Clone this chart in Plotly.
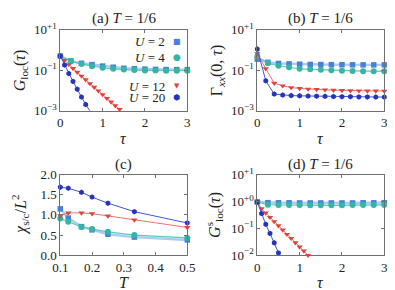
import plotly.graph_objects as go

# ---------------- data ----------------
tau_025 = [0, 0.25, 0.5, 0.75, 1.0, 1.25, 1.5, 1.75, 2.0, 2.25, 2.5, 2.75, 3.0]
tau_01_a12 = [0, 0.1, 0.2, 0.3, 0.4, 0.5, 0.6, 0.7, 0.8, 0.9, 1.0, 1.1, 1.2, 1.3, 1.4]
tau_01_a20 = [0, 0.1, 0.2, 0.3, 0.4, 0.5, 0.6, 0.7]
tau_02 = [0, 0.2, 0.4, 0.6, 0.8, 1.0, 1.2, 1.4, 1.6, 1.8, 2.0, 2.2, 2.4, 2.6, 2.8, 3.0]
tau_01_d12 = [0, 0.1, 0.2, 0.3, 0.4, 0.5, 0.6, 0.7, 0.8, 0.9, 1.0, 1.1, 1.2]
tau_01_d20 = [0, 0.1, 0.2, 0.3, 0.4, 0.5]

# (a) G_loc(tau)
a_U2 = [0.5, 0.29, 0.22, 0.19, 0.16, 0.14, 0.125, 0.118, 0.113, 0.11, 0.108, 0.107, 0.107]
a_U4 = [0.5, 0.275, 0.2, 0.158, 0.132, 0.117, 0.107, 0.101, 0.098, 0.096, 0.095, 0.094, 0.094]
a_U12 = [0.5, 0.302, 0.19, 0.123, 0.0794, 0.0513, 0.0339, 0.0219, 0.0145, 0.00955,
         0.0063, 0.0041, 0.0027, 0.00178, 0.00117]
a_U20 = [0.5, 0.18, 0.068, 0.028, 0.0115, 0.0047, 0.0020, 0.00098]

# (b) Gamma_xx(0, tau)
b_U2 = [0.35, 0.245, 0.215, 0.205, 0.198, 0.193, 0.19, 0.188, 0.186, 0.185, 0.184, 0.183, 0.183]
b_U4 = [0.48, 0.22, 0.166, 0.138, 0.118, 0.11, 0.104, 0.099, 0.095, 0.092, 0.090, 0.089, 0.088]
b_U12 = [0.65, 0.118, 0.023, 0.017, 0.0138, 0.0126, 0.0117, 0.0112, 0.0107, 0.0103,
         0.0100, 0.0098, 0.0096, 0.0095, 0.0094, 0.0093]
b_U20 = [1.1, 0.030, 0.0066, 0.0059, 0.0056, 0.0054, 0.0053, 0.0052, 0.0051, 0.0050,
         0.0049, 0.0049, 0.0048, 0.0048, 0.0047, 0.0047]

# (c) chi_{s/c}/L^2 vs T
T_vals = [0.1, 0.125, 1 / 6, 0.2, 0.25, 1 / 3, 0.5]
c_U2 = [1.15, 0.92, 0.71, 0.63, 0.52, 0.45, 0.38]
c_U4 = [0.91, 0.83, 0.70, 0.65, 0.58, 0.50, 0.43]
c_U12 = [0.98, 1.05, 1.05, 1.03, 0.975, 0.876, 0.69]
c_U20 = [1.686, 1.66, 1.56, 1.44, 1.29, 1.08, 0.80]

# (d) G^s_loc(tau)
d_U2 = [0.95, 0.9, 0.89, 0.89, 0.88, 0.88, 0.88, 0.88, 0.88, 0.88, 0.89, 0.89, 0.9]
d_U4 = [0.95, 0.76, 0.74, 0.73, 0.73, 0.72, 0.72, 0.72, 0.72, 0.73, 0.73, 0.73, 0.74]
d_U12 = [0.955, 0.537, 0.372, 0.257, 0.178, 0.126, 0.087, 0.060, 0.0427, 0.0295,
         0.0204, 0.0145, 0.0100]
d_U20 = [0.95, 0.355, 0.141, 0.065, 0.029, 0.0123]

labels = ["<i>U</i> = 2", "<i>U</i> = 4", "<i>U</i> = 12", "<i>U</i> = 20"]

# ---------------- styles ----------------
FONT = "Liberation Serif, DejaVu Serif, serif"
TXT = "#222"
mcol = ["#4a80d8", "#36b5a6", "#e0443c", "#2633bd"]
lcol = ["#a8cdf0", "#5cc6b8", "#e8736c", "#4456d0"]
lw = [2.4, 1.2, 1.0, 1.0]
sym = ["square", "circle", "triangle-down", "hexagon"]
msz = [5.5, 6, 5.5, 5.5]
glyph = ["■", "●", "▼", "⬢"]
gsize = [8, 9, 7, 8]

fig = go.Figure()


def add(x, y, i, xa, ya):
    fig.add_trace(go.Scatter(
        x=x, y=y, mode="lines+markers", xaxis=xa, yaxis=ya,
        line=dict(color=lcol[i], width=lw[i]),
        marker=dict(color=mcol[i], symbol=sym[i], size=msz[i], line=dict(width=0)),
        cliponaxis=False, showlegend=False, name=labels[i]))


add(tau_025, a_U2, 0, "x", "y")
add(tau_025, a_U4, 1, "x", "y")
add(tau_01_a12, a_U12, 2, "x", "y")
add(tau_01_a20, a_U20, 3, "x", "y")

add(tau_025, b_U2, 0, "x2", "y2")
add(tau_025, b_U4, 1, "x2", "y2")
add(tau_02, b_U12, 2, "x2", "y2")
add(tau_02, b_U20, 3, "x2", "y2")

add(T_vals, c_U2, 0, "x3", "y3")
add(T_vals, c_U4, 1, "x3", "y3")
add(T_vals, c_U12, 2, "x3", "y3")
add(T_vals, c_U20, 3, "x3", "y3")

add(tau_025, d_U2, 0, "x4", "y4")
add(tau_025, d_U4, 1, "x4", "y4")
add(tau_01_d12, d_U12, 2, "x4", "y4")
add(tau_01_d20, d_U20, 3, "x4", "y4")

W, H = 395, 290


def px(x):
    return x / W


def py(y):
    return 1 - y / H


dxL = [px(52.3), px(179.3)]
dxR = [px(249.3), px(376.3)]
dyT = [py(102.7), py(21.7)]
dyB = [py(247.3), py(166.5)]

axcommon = dict(showline=True, linecolor="#707070", linewidth=1, mirror="ticks",
                ticks="inside", ticklen=3, tickcolor="#707070", showgrid=False,
                zeroline=False, automargin=False,
                tickfont=dict(family=FONT, size=13, color=TXT))

TF = dict(family=FONT, size=16, color=TXT)

logticks3 = dict(tickvals=[10, 0.1, 0.001], ticktext=["10<sup>+1</sup>", "10<sup>−1</sup>", "10<sup>−3</sup>"])
tauticks = dict(range=[0, 3], tickvals=[0, 1, 2, 3])

fig.update_layout(
    width=W, height=H, margin=dict(l=0, r=0, t=0, b=0),
    paper_bgcolor="white", plot_bgcolor="white",
    font=dict(family=FONT, color=TXT),
    xaxis=dict(domain=dxL, anchor="y", **tauticks, **axcommon),
    yaxis=dict(domain=dyT, anchor="x", type="log", range=[-3, 1], **logticks3, **axcommon),
    xaxis2=dict(domain=dxR, anchor="y2", **tauticks, **axcommon),
    yaxis2=dict(domain=dyT, anchor="x2", type="log", range=[-3, 1], **logticks3, **axcommon),
    xaxis3=dict(domain=dxL, anchor="y3", range=[0.1, 0.5], tickvals=[0.1, 0.2, 0.3, 0.4, 0.5],
                tickformat=".1f", **axcommon),
    yaxis3=dict(domain=dyB, anchor="x3", range=[0, 2], tickvals=[0, 0.5, 1, 1.5, 2],
                tickformat=".1f", **axcommon),
    xaxis4=dict(domain=dxR, anchor="y4", **tauticks, **axcommon),
    yaxis4=dict(domain=dyB, anchor="x4", type="log", range=[-2, 1],
                tickvals=[10, 1, 0.1, 0.01],
                ticktext=["10<sup>+1</sup>", "10<sup>+0</sup>", "10<sup>−1</sup>", "10<sup>−2</sup>"],
                **axcommon),
)

# axis titles as annotations
xtitles = [("<i>τ</i>", sum(dxL) / 2, 130), ("<i>τ</i>", sum(dxR) / 2, 130),
           ("<i>T</i>", sum(dxL) / 2, 274), ("<i>τ</i>", sum(dxR) / 2, 274)]
for txt, xp, ypx in xtitles:
    fig.add_annotation(text=txt, x=xp, y=py(ypx), xref="paper", yref="paper",
                       showarrow=False, xanchor="center", yanchor="middle", font=TF)

ytitles = [("<i>G</i><sub>loc</sub>(<i>τ</i>)", 12, sum(dyT) / 2),
           ("Γ<sub><i>xx</i></sub>(0, <i>τ</i>)", 209, sum(dyT) / 2),
           ("<i>χ</i><sub>s/c</sub>/<i>L</i><sup>2</sup>", 12, sum(dyB) / 2),
           ("<i>G</i><sup>s</sup><sub>loc</sub>(<i>τ</i>)", 206, sum(dyB) / 2)]
for txt, xpx, yp in ytitles:
    fig.add_annotation(text=txt, x=px(xpx), y=yp, xref="paper", yref="paper",
                       showarrow=False, xanchor="center", yanchor="middle",
                       textangle=-90, font=TF)

titles = [("(a) <i>T</i> = 1/6", sum(dxL) / 2, 11),
          ("(b) <i>T</i> = 1/6", sum(dxR) / 2, 11),
          ("(c)", sum(dxL) / 2, 156),
          ("(d) <i>T</i> = 1/6", sum(dxR) / 2, 156)]
for txt, xp, ypx in titles:
    fig.add_annotation(text=txt, x=xp, y=py(ypx), xref="paper", yref="paper",
                       showarrow=False, xanchor="center", yanchor="middle",
                       font=dict(family=FONT, size=15, color=TXT))

# legend in panel (a): label text with marker glyph on the right
leg_y = [33, 49, 78, 90]
for i in range(4):
    fig.add_annotation(text=labels[i], x=px(159), y=py(leg_y[i]), xref="paper", yref="paper",
                       showarrow=False, xanchor="right", yanchor="middle",
                       font=dict(family=FONT, size=13, color=TXT))
    fig.add_annotation(text=glyph[i], x=px(168.5), y=py(leg_y[i]), xref="paper", yref="paper",
                       showarrow=False, xanchor="center", yanchor="middle",
                       font=dict(family="DejaVu Sans", size=gsize[i], color=mcol[i]))

fig.write_html("out.html")
